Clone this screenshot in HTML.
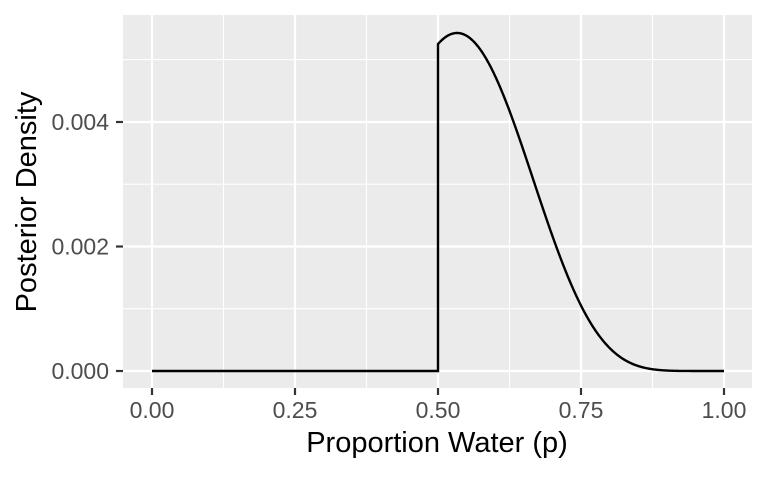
<!DOCTYPE html>
<html><head><meta charset="utf-8"><style>
body{margin:0;background:#fff}
svg text{font-family:"Liberation Sans",sans-serif}
.t{font-size:23px;fill:#4d4d4d}
.a{font-size:29px;fill:#000}
</style></head><body>
<svg id="s" width="768" height="474" xmlns="http://www.w3.org/2000/svg">
<rect width="768" height="474" fill="#fff"/>
<rect x="123" y="15" width="629" height="373" fill="#ebebeb"/>
<g stroke="#fff" stroke-width="1.1">
<line x1="123" x2="752" y1="308.7" y2="308.7"/>
<line x1="123" x2="752" y1="184.2" y2="184.2"/>
<line x1="123" x2="752" y1="59.6" y2="59.6"/>
<line x1="223.5" x2="223.5" y1="15" y2="388"/>
<line x1="366.5" x2="366.5" y1="15" y2="388"/>
<line x1="509.5" x2="509.5" y1="15" y2="388"/>
<line x1="652.5" x2="652.5" y1="15" y2="388"/>
</g>
<g stroke="#fff" stroke-width="2.2">
<line x1="123" x2="752" y1="371" y2="371"/>
<line x1="123" x2="752" y1="246.5" y2="246.5"/>
<line x1="123" x2="752" y1="122" y2="122"/>
<line x1="152" x2="152" y1="15" y2="388"/>
<line x1="295" x2="295" y1="15" y2="388"/>
<line x1="438" x2="438" y1="15" y2="388"/>
<line x1="581" x2="581" y1="15" y2="388"/>
<line x1="724" x2="724" y1="15" y2="388"/>
</g>
<g stroke="#333" stroke-width="2.2">
<line x1="116" x2="123" y1="371" y2="371"/>
<line x1="116" x2="123" y1="246.5" y2="246.5"/>
<line x1="116" x2="123" y1="122" y2="122"/>
<line x1="152" x2="152" y1="388" y2="395"/>
<line x1="295" x2="295" y1="388" y2="395"/>
<line x1="438" x2="438" y1="388" y2="395"/>
<line x1="581" x2="581" y1="388" y2="395"/>
<line x1="724" x2="724" y1="388" y2="395"/>
</g>
<g class="t" text-anchor="end">
<text x="109" y="379">0.000</text>
<text x="109" y="254.5">0.002</text>
<text x="109" y="130">0.004</text>
</g>
<g class="t" text-anchor="middle">
<text x="152" y="418">0.00</text>
<text x="295" y="418">0.25</text>
<text x="438" y="418">0.50</text>
<text x="581" y="418">0.75</text>
<text x="724" y="418">1.00</text>
</g>
<text class="a" x="437" y="452" text-anchor="middle">Proportion Water (p)</text>
<text class="a" transform="translate(36,202) rotate(-90)" text-anchor="middle">Posterior Density</text>
<path id="c" fill="none" stroke="#000" stroke-width="2.4"/>
</svg>
<script>
var f=function(p){return Math.pow(p,8)*Math.pow(1-p,7)};
var m=f(8/15),d="M152,371 L438,371";
for(var i=0;i<=500;i++){var p=0.5+i/1000;var y=371-0.00543*62250*f(p)/m;d+=" L"+(152+572*p).toFixed(2)+","+y.toFixed(2);}
document.getElementById("c").setAttribute("d",d);
</script>
</body></html>
